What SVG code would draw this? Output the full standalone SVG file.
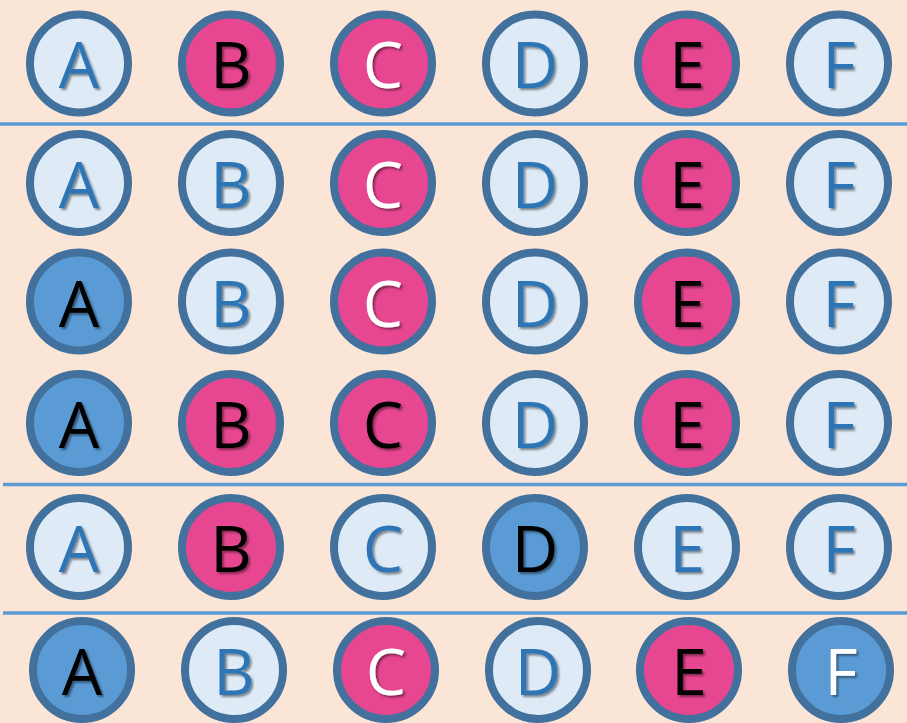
<svg xmlns="http://www.w3.org/2000/svg" width="907" height="723" viewBox="0 0 907 723">
<defs>
<filter id="sh" x="-30%" y="-30%" width="160%" height="160%">
<feDropShadow dx="2" dy="2" stdDeviation="1.2" flood-color="#000" flood-opacity="0.45"/>
</filter>
</defs>
<style>
circle{stroke:#41719C;stroke-width:8}
.l{fill:#DEEBF7}.p{fill:#E64790}.d{fill:#5B9BD5}
text{font-family:"Open Sans","Noto Sans",sans-serif;font-size:64px;text-anchor:middle;filter:url(#sh)}
.tb{fill:#2E75B6}.tk{fill:#000}.tw{fill:#fff}
.sep{stroke:#5B9BD5;stroke-width:3.5}
</style>
<rect width="907" height="723" fill="#FBE5D6"/>
<g id="connectors">
<line class="sep" x1="0" y1="124" x2="907" y2="124"/>
<line class="sep" x1="3" y1="484.5" x2="907" y2="484.5"/>
<line class="sep" x1="3" y1="613" x2="907" y2="613"/>
</g>
<g id="r1">
<g id="r1A"><circle class="l" cx="79" cy="63.5" r="49"/><text class="tb" x="79" y="88">A</text></g>
<g id="r1B"><circle class="p" cx="231" cy="63.5" r="49"/><text class="tk" x="231" y="88">B</text></g>
<g id="r1C"><circle class="p" cx="383" cy="63.5" r="49"/><text class="tw" x="383" y="88">C</text></g>
<g id="r1D"><circle class="l" cx="535" cy="63.5" r="49"/><text class="tb" x="535" y="88">D</text></g>
<g id="r1E"><circle class="p" cx="687" cy="63.5" r="49"/><text class="tk" x="687" y="88">E</text></g>
<g id="r1F"><circle class="l" cx="839" cy="63.5" r="49"/><text class="tb" x="839" y="88">F</text></g>
</g>
<g id="r2">
<g id="r2A"><circle class="l" cx="79" cy="183" r="49"/><text class="tb" x="79" y="208">A</text></g>
<g id="r2B"><circle class="l" cx="231" cy="183" r="49"/><text class="tb" x="231" y="208">B</text></g>
<g id="r2C"><circle class="p" cx="383" cy="183" r="49"/><text class="tw" x="383" y="208">C</text></g>
<g id="r2D"><circle class="l" cx="535" cy="183" r="49"/><text class="tb" x="535" y="208">D</text></g>
<g id="r2E"><circle class="p" cx="687" cy="183" r="49"/><text class="tk" x="687" y="208">E</text></g>
<g id="r2F"><circle class="l" cx="839" cy="183" r="49"/><text class="tb" x="839" y="208">F</text></g>
</g>
<g id="r3">
<g id="r3A"><circle class="d" cx="79" cy="301.5" r="49"/><text class="tk" x="79" y="326.5">A</text></g>
<g id="r3B"><circle class="l" cx="231" cy="301.5" r="49"/><text class="tb" x="231" y="326.5">B</text></g>
<g id="r3C"><circle class="p" cx="383" cy="301.5" r="49"/><text class="tw" x="383" y="326.5">C</text></g>
<g id="r3D"><circle class="l" cx="535" cy="301.5" r="49"/><text class="tb" x="535" y="326.5">D</text></g>
<g id="r3E"><circle class="p" cx="687" cy="301.5" r="49"/><text class="tk" x="687" y="326.5">E</text></g>
<g id="r3F"><circle class="l" cx="839" cy="301.5" r="49"/><text class="tb" x="839" y="326.5">F</text></g>
</g>
<g id="r4">
<g id="r4A"><circle class="d" cx="79" cy="423" r="49"/><text class="tk" x="79" y="448">A</text></g>
<g id="r4B"><circle class="p" cx="231" cy="423" r="49"/><text class="tk" x="231" y="448">B</text></g>
<g id="r4C"><circle class="p" cx="383" cy="423" r="49"/><text class="tk" x="383" y="448">C</text></g>
<g id="r4D"><circle class="l" cx="535" cy="423" r="49"/><text class="tb" x="535" y="448">D</text></g>
<g id="r4E"><circle class="p" cx="687" cy="423" r="49"/><text class="tk" x="687" y="448">E</text></g>
<g id="r4F"><circle class="l" cx="839" cy="423" r="49"/><text class="tb" x="839" y="448">F</text></g>
</g>
<g id="r5">
<g id="r5A"><circle class="l" cx="79" cy="547" r="49"/><text class="tb" x="79" y="572">A</text></g>
<g id="r5B"><circle class="p" cx="231" cy="547" r="49"/><text class="tk" x="231" y="572">B</text></g>
<g id="r5C"><circle class="l" cx="383" cy="547" r="49"/><text class="tb" x="383" y="572">C</text></g>
<g id="r5D"><circle class="d" cx="535" cy="547" r="49"/><text class="tk" x="535" y="572">D</text></g>
<g id="r5E"><circle class="l" cx="687" cy="547" r="49"/><text class="tb" x="687" y="572">E</text></g>
<g id="r5F"><circle class="l" cx="839" cy="547" r="49"/><text class="tb" x="839" y="572">F</text></g>
</g>
<g id="r6">
<g id="r6A"><circle class="d" cx="82" cy="670" r="49"/><text class="tk" x="82" y="695">A</text></g>
<g id="r6B"><circle class="l" cx="234" cy="670" r="49"/><text class="tb" x="234" y="695">B</text></g>
<g id="r6C"><circle class="p" cx="386" cy="670" r="49"/><text class="tw" x="386" y="695">C</text></g>
<g id="r6D"><circle class="l" cx="538" cy="670" r="49"/><text class="tb" x="538" y="695">D</text></g>
<g id="r6E"><circle class="p" cx="689" cy="670" r="49"/><text class="tk" x="689" y="695">E</text></g>
<g id="r6F"><circle class="d" cx="841" cy="670" r="49"/><text class="tw" x="841" y="695">F</text></g>
</g>
</svg>
